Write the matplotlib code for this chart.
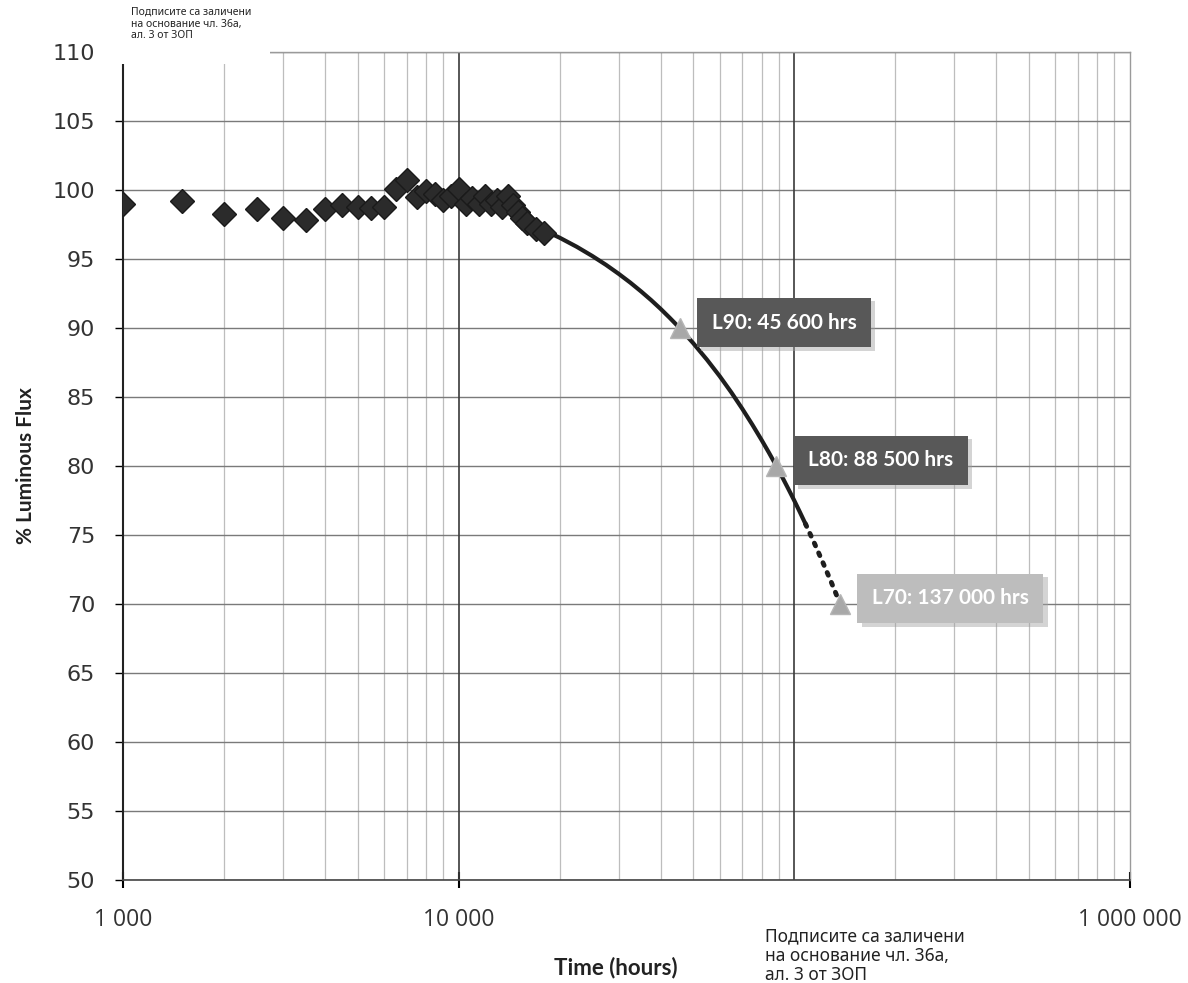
import numpy as np
import matplotlib
matplotlib.use('Agg')
import matplotlib.pyplot as plt
from matplotlib.ticker import FixedLocator, FixedFormatter, NullFormatter

# measured data points (hours, % luminous flux)
hours = [1000, 1500, 2000, 2500, 3000, 3500, 4000, 4500, 5000, 5500, 6000,
         6500, 7000, 7500, 8000, 8500, 9000, 9500, 10000, 10500, 11000,
         11500, 12000, 12500, 13000, 13500, 14000, 14500, 15000, 15500,
         16000, 17000, 18000]
flux = [99.0, 99.2, 98.3, 98.6, 98.0, 97.8, 98.6, 98.9, 98.8, 98.7, 98.8,
        100.1, 100.7, 99.5, 99.9, 99.7, 99.3, 99.6, 100.1, 99.0, 99.4,
        99.0, 99.6, 99.0, 99.3, 98.8, 99.6, 98.9, 98.4, 98.0,
        97.6, 97.2, 96.9]

# projected curve
fit_hours = [17500, 20000, 22500, 25000, 27500, 30000, 32500, 35000, 37500,
             40000, 42500, 45600, 50000, 55000, 60000, 65000, 70000, 75000,
             80000, 84000, 88500, 92000, 96000, 100000, 104000, 108000]
fit_flux = [97.21, 96.55, 95.89, 95.23, 94.58, 93.93, 93.29, 92.65, 92.02,
            91.39, 90.76, 90.00, 88.91, 87.70, 86.51, 85.33, 84.16, 83.01,
            81.88, 80.99, 80.00, 79.23, 78.36, 77.51, 76.66, 75.82]
ext_hours = [108000, 115000, 122000, 129000, 137000]
ext_flux = [75.82, 74.38, 72.96, 71.58, 70.02]

# L points
L_hours = [45600, 88500, 137000]
L_flux = [90, 80, 70]
L_text = ['L90: 45 600 hrs', 'L80: 88 500 hrs', 'L70: 137 000 hrs']

yticks = list(range(50, 111, 5))
xtick_vals = [1000, 10000, 1000000]
xtick_labels = ['1 000', '10 000', '1 000 000']

fig = plt.figure(figsize=(11.88, 9.83), dpi=100)
ax = fig.add_axes([0.1035, 0.1048, 0.8475, 0.8422])

ax.set_xscale('log')
ax.set_xlim(1000, 1000000)
ax.set_ylim(50, 110)

# grid
ax.set_yticks(yticks)
ax.yaxis.grid(True, color='#7a7a7a', linewidth=1.0)
ax.xaxis.set_major_locator(FixedLocator([1000, 10000, 100000, 1000000]))
ax.xaxis.set_minor_locator(FixedLocator(
    [m * 10 ** e for e in (3, 4, 5) for m in range(2, 10)]))
ax.xaxis.grid(True, which='minor', color='#bdbdbd', linewidth=0.9)
for v in [10000, 100000]:
    ax.axvline(v, color='#3a3a3a', linewidth=1.2, zorder=1)
ax.set_axisbelow(True)

ax.xaxis.set_major_formatter(FixedFormatter([]))
ax.xaxis.set_minor_formatter(NullFormatter())
ax.set_xticks(xtick_vals)
ax.set_xticklabels(xtick_labels, fontsize=16.5, color='#333333', family='Open Sans')
ax.tick_params(axis='x', which='major', direction='inout', length=12, width=1.5, pad=14)
ax.tick_params(axis='x', which='minor', length=0)
ax.tick_params(axis='y', direction='out', length=6, width=1, pad=14,
               labelsize=16, labelcolor='#333333')
for lab in ax.get_yticklabels():
    lab.set_family('DejaVu Sans')

for s in ['top', 'right']:
    ax.spines[s].set_color('#9a9a9a')
    ax.spines[s].set_linewidth(1.0)
ax.spines['left'].set_color('#222222')
ax.spines['left'].set_linewidth(1.5)
ax.spines['bottom'].set_color('#444444')
ax.spines['bottom'].set_linewidth(1.2)

# data and projection
ax.plot(fit_hours, fit_flux, color='#1e1e1e', linewidth=3, zorder=3)
ax.plot(ext_hours, ext_flux, color='#1e1e1e', linewidth=3.5, linestyle=(0, (0.6, 1.6)),
        dash_capstyle='round', zorder=3)
ax.plot(hours, flux, linestyle='none', marker='D', markersize=12,
        color='#2b2b2b', markeredgecolor='#1a1a1a', zorder=4)
ax.plot(L_hours, L_flux, linestyle='none', marker='^', markersize=14,
        color='#a8a8a8', markeredgecolor='#b5b5b5', zorder=5)

box_colors = ['#585858', '#585858', '#bdbdbd']
for h, f, t, c in zip(L_hours, L_flux, L_text, box_colors):
    # soft shadow
    ax.annotate(t, (h, f), xytext=(26, 1.5), textcoords='offset points',
                fontsize=15, fontweight='bold', color='white', family='Lato',
                va='center', ha='left', alpha=0.0,
                bbox=dict(boxstyle='square,pad=0.7', fc='#a0a0a0', ec='none', alpha=0.45),
                zorder=5)
    ax.annotate(t, (h, f), xytext=(23, 4), textcoords='offset points',
                fontsize=15, fontweight='bold', color='white', family='Lato',
                va='center', ha='left',
                bbox=dict(boxstyle='square,pad=0.7', fc=c, ec='none'),
                zorder=6)

ax.set_ylabel('% Luminous Flux', fontsize=15, fontweight='bold', color='#222222',
              family='Lato', labelpad=12)
fig.text(0.518, 0.016, 'Time (hours)', fontsize=16, fontweight='bold',
         color='#222222', family='Lato', ha='center', va='center')

# redaction notes
fig.patches.append(plt.Rectangle((0.097, 0.935), 0.13, 0.065, transform=fig.transFigure,
                                 facecolor='white', edgecolor='none', zorder=10))
fig.text(0.11, 0.993, 'Подписите са заличени\nна основание чл. 36а,\nал. 3 от ЗОП',
         fontsize=7.5, family='Noto Sans', color='#222222', va='top', ha='left',
         linespacing=1.1, zorder=11)
fig.text(0.644, 0.057, 'Подписите са заличени\nна основание чл. 36а,\nал. 3 от ЗОП',
         fontsize=12.5, family='Noto Sans', color='#222222', va='top', ha='left',
         linespacing=1.12, zorder=11)

fig.savefig('out.png', dpi=100)
